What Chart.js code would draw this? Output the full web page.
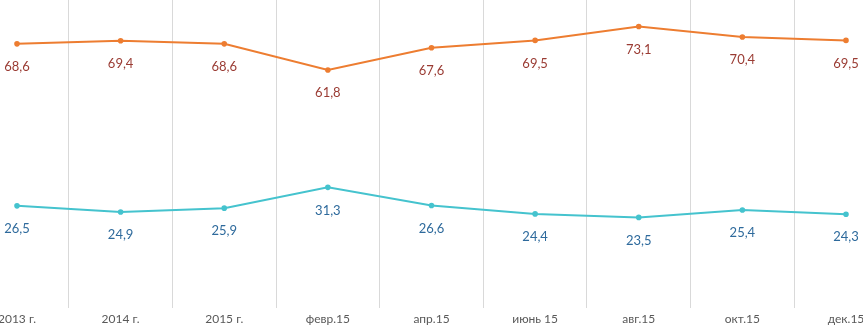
<!DOCTYPE html>
<html>
<head>
<meta charset="utf-8">
<script src="https://cdn.jsdelivr.net/npm/chart.js@4.4.1/dist/chart.umd.min.js"></script>
<style>
  html, body { margin: 0; padding: 0; background: #fff; }
  #wrap { width: 863px; height: 331px; position: relative; }
</style>
</head>
<body>
<div id="wrap"><canvas id="chart"></canvas></div>
<script>
const labels = ['2013 г.', '2014 г.', '2015 г.', 'февр.15', 'апр.15', 'июнь 15', 'авг.15', 'окт.15', 'дек.15'];
const upperValues = [68.6, 69.4, 68.6, 61.8, 67.6, 69.5, 73.1, 70.4, 69.5];
const lowerValues = [26.5, 24.9, 25.9, 31.3, 26.6, 24.4, 23.5, 25.4, 24.3];

// draws values under every point, comma as decimal separator
const valueLabels = {
    id: 'valueLabels',
    afterDatasetsDraw(chart) {
        const ctx = chart.ctx;
        ctx.save();
        ctx.font = '13px Lato, "Open Sans", sans-serif';
        ctx.textAlign = 'center';
        ctx.textBaseline = 'middle';
        chart.data.datasets.forEach((ds, i) => {
            const meta = chart.getDatasetMeta(i);
            ctx.fillStyle = ds.labelColor;
            meta.data.forEach((pt, j) => {
                ctx.fillText(ds.data[j].toFixed(1).replace('.', ','), pt.x, pt.y + 23);
            });
        });
        ctx.restore();
    }
};

const config = {
    type: 'line',
    data: {
        labels: labels,
        datasets: [{
            label: 'upper',
            data: upperValues,
            borderColor: '#ed7d31',
            backgroundColor: '#ed7d31',
            labelColor: '#9a3b33',
            borderWidth: 2,
            pointRadius: 1.8,
            tension: 0
        }, {
            label: 'lower',
            data: lowerValues,
            borderColor: '#45c3ce',
            backgroundColor: '#45c3ce',
            labelColor: '#2e6a9c',
            borderWidth: 2,
            pointRadius: 1.8,
            tension: 0
        }]
    },
    options: {
        responsive: true,
        maintainAspectRatio: false,
        animation: false,
        layout: {
            autoPadding: false,
            padding: {left: 17, right: 17, top: 0, bottom: 0}
        },
        plugins: {
            legend: {display: false},
            tooltip: {enabled: false}
        },
        scales: {
            x: {
                offset: false,
                // let the end labels run off the canvas like in the original
                afterFit(scale) {
                    scale.paddingLeft = 0;
                    scale.paddingRight = 0;
                },
                grid: {
                    offset: true,
                    color: '#d9d9d9',
                    lineWidth: 1,
                    drawTicks: false
                },
                border: {display: false},
                ticks: {
                    color: '#595959',
                    font: {size: 12, family: 'Lato, "Open Sans", sans-serif', lineHeight: 1.6},
                    maxRotation: 0,
                    autoSkip: false,
                    padding: 2
                }
            },
            y: {
                display: false,
                min: 0,
                max: 80
            }
        }
    },
    plugins: [valueLabels]
};

new Chart(document.getElementById('chart'), config);
</script>
</body>
</html>
